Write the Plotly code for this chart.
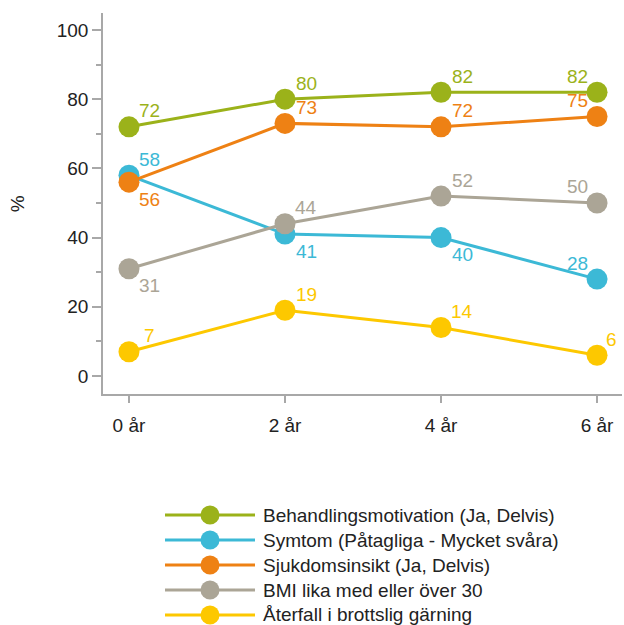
import plotly.graph_objects as go

# Follow-up years and their tick labels
years = [0, 2, 4, 6]
year_labels = ["0 år", "2 år", "4 år", "6 år"]

# Series names, values (%) and colours
names = [
    "Behandlingsmotivation (Ja, Delvis)",
    "Symtom (Påtagliga - Mycket svåra)",
    "Sjukdomsinsikt (Ja, Delvis)",
    "BMI lika med eller över 30",
    "Återfall i brottslig gärning",
]
motivation = [72, 80, 82, 82]
symptoms = [58, 41, 40, 28]
insight = [56, 73, 72, 75]
bmi = [31, 44, 52, 50]
relapse = [7, 19, 14, 6]
series = [motivation, symptoms, insight, bmi, relapse]
colors = ["#9bb21a", "#3cb9d6", "#ee8114", "#aba596", "#fdc800"]

# Placement of each value label relative to its marker: (dx, dy) in pixels
TR, BR, TL = (21, 16), (21, -17), (-20, 16)
label_pos = [
    [TR, TR, TR, TL],
    [TR, BR, BR, TL],
    [BR, TR, TR, TL],
    [BR, TR, TR, TL],
    [TR, TR, TR, (14, 16)],
]

FONT = "Arial, Liberation Sans, sans-serif"
TEXT_COL = "#222222"
FS = 19
fig = go.Figure()
annotations = []

for name, vals, col, pos in zip(names, series, colors, label_pos):
    fig.add_trace(go.Scatter(
        x=years, y=vals, name=name, mode="lines+markers",
        line=dict(color=col, width=3),
        marker=dict(color=col, size=21, opacity=1),
        showlegend=False, hoverinfo="skip",
    ))
    for xv, yv, (dx, dy) in zip(years, vals, pos):
        annotations.append(dict(
            x=xv, y=yv, xref="x", yref="y", text=str(yv), showarrow=False,
            xshift=dx, yshift=dy, font=dict(family=FONT, size=FS, color=col),
        ))

# Legend drawn on its own small axes below the chart (x2 in pixel units)
KEY_LEN = 90
for i, (name, col) in enumerate(zip(names, colors)):
    fig.add_trace(go.Scatter(
        x=[0, KEY_LEN], y=[-i, -i], xaxis="x2", yaxis="y2",
        mode="lines", line=dict(color=col, width=3),
        showlegend=False, hoverinfo="skip",
    ))
    fig.add_trace(go.Scatter(
        x=[KEY_LEN / 2], y=[-i], xaxis="x2", yaxis="y2",
        mode="markers", marker=dict(color=col, size=19, opacity=1),
        showlegend=False, hoverinfo="skip",
    ))
    annotations.append(dict(
        x=KEY_LEN + 6, y=-i, xref="x2", yref="y2", text=name, showarrow=False,
        xanchor="left", yanchor="middle",
        font=dict(family=FONT, size=FS, color=TEXT_COL),
    ))

# y-axis title
annotations.append(dict(
    x=-0.164, y=(1 + 0.3775) / 2, xref="paper", yref="paper", text="%",
    showarrow=False, textangle=-90, xanchor="center", yanchor="middle",
    font=dict(family=FONT, size=FS, color=TEXT_COL),
))

axis_col = "#a8a8a8"
fig.update_layout(
    width=624, height=625,
    margin=dict(l=103, r=2, t=13, b=0),
    paper_bgcolor="white", plot_bgcolor="white",
    font=dict(family=FONT, size=FS, color=TEXT_COL),
    xaxis=dict(
        domain=[0, 1], range=[-0.333, 6.32],
        tickvals=years, ticktext=year_labels,
        showgrid=False, zeroline=False, showline=True,
        linecolor=axis_col, linewidth=1.5,
        ticks="outside", ticklen=7, tickcolor=axis_col, tickwidth=1.5,
        tickfont=dict(family=FONT, size=FS, color=TEXT_COL),
        anchor="y", ticklabelstandoff=6,
    ),
    yaxis=dict(
        domain=[0.3775, 1], range=[-5.2, 104.9],
        tickvals=[0, 20, 40, 60, 80, 100],
        showgrid=False, zeroline=False, showline=True,
        linecolor=axis_col, linewidth=1.5,
        ticks="outside", ticklen=9, tickcolor=axis_col, tickwidth=1.5,
        minor=dict(ticks="outside", ticklen=5, tickcolor=axis_col,
                   tickwidth=1.5, tickvals=[10, 30, 50, 70, 90]),
        tickfont=dict(family=FONT, size=FS, color=TEXT_COL),
        anchor="x",
    ),
    # legend axes: 165 px .. 622 px horizontally, 1 unit per pixel
    xaxis2=dict(domain=[62 / 519, 1], range=[0, 457], visible=False,
                anchor="y2", fixedrange=True),
    yaxis2=dict(domain=[0, 0.2042], range=[-4.4, 0.6], visible=False,
                anchor="x2", fixedrange=True),
    annotations=annotations,
)

fig.write_html("out.html")
